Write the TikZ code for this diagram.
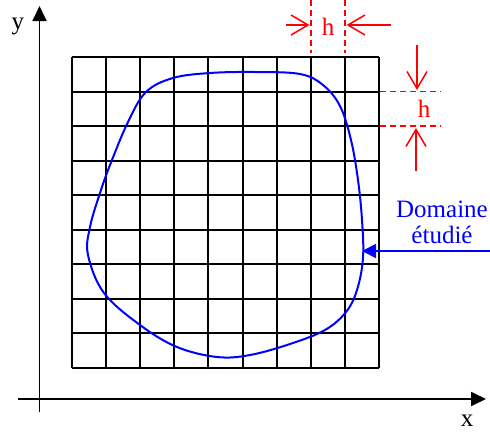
\documentclass[tikz,border=0pt]{standalone}
\usepackage{fontspec}
\setmainfont{Liberation Serif}
\usetikzlibrary{arrows.meta}
\tikzset{
  gridline/.style={line width=2pt, black},
  axisline/.style={line width=1.8pt, black, -{Triangle[length=15pt,width=14pt]}},
  domline/.style={line width=2pt, blue},
  dimline/.style={line width=1.5pt, red, dash pattern=on 6pt off 4pt},
  dimarrow/.style={line width=1.5pt, red, -{Straight Barb[length=17pt,width=20pt]}},
  lbl/.style={font=\fontsize{25}{28}\selectfont, inner sep=0pt},
}
\begin{document}
\begin{tikzpicture}[x=1pt,y=-1pt]
\useasboundingbox (0,0) rectangle (490,437);
% grid 9x9
\foreach \i in {0,...,9} {
  \draw[gridline] ({72+\i*34.111},57) -- ({72+\i*34.111},368);
  \draw[gridline] (72,{57+\i*34.556}) -- (379,{57+\i*34.556});
}
% axes
\coordinate (xs) at (18,399);
\coordinate (xe) at (486,399);
\coordinate (ys) at (39.5,412);
\coordinate (ye) at (39.5,6);
\draw[axisline] (xs) -- (xe);
\draw[axisline] (ys) -- (ye);
\node[lbl] (xl) at (467,421) {x};
\node[lbl] (yl) at (18,26) {y};
% domain curve
\draw[domline] plot[smooth cycle, tension=0.6] coordinates {
 (255,72) (300,74) (323,85) (340,106) (351,140) (358,180) (362,220)
 (363,258) (357,290) (346,312) (325,330) (290,344) (250,355) (217,357)
 (177,347) (140,325) (104,293) (88,255) (90,227) (100,193) (110,165) (128,122)
 (146,92) (173,78) (210,73)};
% horizontal spacing h
\draw[dimline] (310.8,0) -- (310.8,53);
\draw[dimline] (344.9,0) -- (344.9,53);
\coordinate (la) at (286,25);
\coordinate (lb) at (309.5,25);
\coordinate (ra) at (391,25);
\coordinate (rb) at (346.5,25);
\draw[dimarrow] (la) -- (lb);
\draw[dimarrow] (ra) -- (rb);
\node[lbl, text=red] (hx) at (328,27) {h};
% vertical spacing h
\draw[dimline] (380,91.5) -- (441,91.5);
\draw[dimline] (380,126.1) -- (441,126.1);
\coordinate (ua) at (417,45);
\coordinate (ub) at (417,90);
\coordinate (da) at (416,171);
\coordinate (db) at (416,128);
\draw[dimarrow] (ua) -- (ub);
\draw[dimarrow] (da) -- (db);
\node[lbl, text=red] (hy) at (424,109) {h};
% label
\node[lbl, text=blue, align=center] (dom) at (442,222) {Domaine\\[-2pt]étudié};
\coordinate (da1) at (490,251);
\coordinate (da2) at (362,251);
\draw[line width=1.8pt, blue, -{Triangle[length=14pt,width=14pt]}] (da1) -- (da2);
\end{tikzpicture}
\end{document}
